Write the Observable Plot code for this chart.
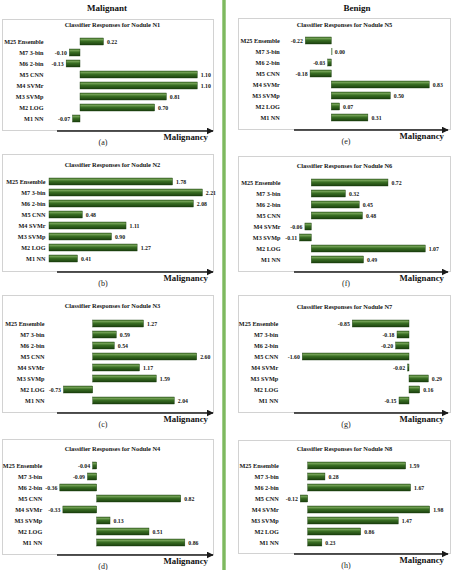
<!DOCTYPE html>
<html><head><meta charset="utf-8">
<script src="https://cdn.jsdelivr.net/npm/d3@7"></script>
<script src="https://cdn.jsdelivr.net/npm/@observablehq/plot@0.6"></script>
<style>
html,body{margin:0;padding:0;background:#fff;}
#page{position:relative;width:452px;height:570px;overflow:hidden;background:#fff;font-family:"Liberation Serif","Times New Roman",serif;color:#111;}
.box{position:absolute;border:1px solid #d2d2d2;box-sizing:border-box;background:#fff;}
.sep{position:absolute;left:222px;top:0;width:4px;height:570px;background:linear-gradient(to right,#b4d8a0,#6cae4a,#b4d8a0);}
</style></head><body>
<svg width="0" height="0" style="position:absolute">
  <defs>
    <linearGradient id="barGrad" x1="0" y1="0" x2="0" y2="1">
      <stop offset="0%" stop-color="#4d7d33"/>
      <stop offset="22%" stop-color="#6f9d52"/>
      <stop offset="45%" stop-color="#3a7024"/>
      <stop offset="100%" stop-color="#1b3f0e"/>
    </linearGradient>
    <marker id="arrowHead" viewBox="0 0 10 10" refX="9" refY="5" markerWidth="5" markerHeight="5" orient="auto">
      <path d="M0,0 L10,5 L0,10 z" fill="#1a1a1a"/>
    </marker>
  </defs>
</svg>
<div id="page"></div>
<script>
// ---------- data ----------
const classifiers = ["M25 Ensemble","M7 3-bin","M6 2-bin","M5 CNN","M4 SVMr","M3 SVMp","M2 LOG","M1 NN"];
const nodules = ["N1","N2","N3","N4","N5","N6","N7","N8"];
const panelLetters = ["(a)","(b)","(c)","(d)","(e)","(f)","(g)","(h)"];
const columnHeaders = ["Malignant","Benign"];
const axisLabel = "Malignancy";
const titlePrefix = "Classifier Responses for Nodule ";

const valuesN1 = [0.22, -0.10, -0.13, 1.10, 1.10, 0.81, 0.70, -0.07];
const valuesN2 = [1.78, 2.21, 2.08, 0.48, 1.11, 0.90, 1.27, 0.41];
const valuesN3 = [1.27, 0.59, 0.54, 2.60, 1.17, 1.59, -0.73, 2.04];
const valuesN4 = [-0.04, -0.09, -0.36, 0.82, -0.33, 0.13, 0.51, 0.86];
const valuesN5 = [-0.22, 0.00, -0.03, -0.18, 0.83, 0.50, 0.07, 0.31];
const valuesN6 = [0.72, 0.32, 0.45, 0.48, -0.06, -0.11, 1.07, 0.49];
const valuesN7 = [-0.85, -0.18, -0.20, -1.60, -0.02, 0.29, 0.16, -0.15];
const valuesN8 = [1.59, 0.28, 1.67, -0.12, 1.98, 1.47, 0.86, 0.23];
const allValues = [valuesN1, valuesN2, valuesN3, valuesN4, valuesN5, valuesN6, valuesN7, valuesN8];

// ---------- layout (pixels) ----------
const colLeft = [2, 238], colWidth = [212, 213];
const layout = [
  {col:0, top:19,  bottom:131, zero:80,    k:106.6, labelRight:43,    row1:40,    row8:120,   titleY:24.5},
  {col:0, top:154, bottom:272, zero:49,    k:69.4,  labelRight:45,    row1:180,   row8:260,   titleY:164},
  {col:0, top:295, bottom:413, zero:92.7,  k:40,    labelRight:44,    row1:322.3, row8:402.3, titleY:305},
  {col:0, top:439, bottom:555, zero:96.7,  k:102.5, labelRight:41.7,  row1:464,   row8:544,   titleY:448.3},
  {col:1, top:18,  bottom:130, zero:331.3, k:118,   labelRight:279.3, row1:39.7,  row8:119.3, titleY:24},
  {col:1, top:156, bottom:272, zero:311.3, k:106.5, labelRight:280,   row1:181.3, row8:261,   titleY:165},
  {col:1, top:295, bottom:413, zero:409,   k:66.7,  labelRight:277.7, row1:322.3, row8:402.3, titleY:306},
  {col:1, top:440, bottom:554, zero:307.7, k:61.6,  labelRight:278.3, row1:464,   row8:544,   titleY:448.3}
];
const titleCenter = [112, 344];
const pad = 0.36;

const page = document.getElementById("page");
const sep = document.createElement("div"); sep.className = "sep"; page.appendChild(sep);

allValues.forEach((values, i) => {
  const L = layout[i];
  const left = colLeft[L.col], width = colWidth[L.col];
  const height = L.bottom - L.top;
  const box = document.createElement("div");
  box.className = "box";
  Object.assign(box.style, {left: left + "px", top: L.top + "px", width: width + "px", height: height + "px"});
  page.appendChild(box);

  const data = classifiers.map((m, j) => ({m, v: values[j]}));
  const lo = Math.min(0, d3.min(values)), hi = Math.max(0, d3.max(values));
  const zx = L.zero - left;
  const step = (L.row8 - L.row1) / 7;
  const ya = L.row1 - L.top - step * (1 + pad) / 2;
  const yb = L.row8 - L.top + step * (1 + pad) / 2;
  const marginLeft = L.labelRight - left + 2;

  const svg = Plot.plot({
    width, height,
    marginLeft, marginRight: 0, marginTop: 0, marginBottom: 0,
    style: {fontFamily: "'Liberation Serif','Times New Roman',serif", fontSize: "6.2px", fontWeight: "bold", color: "#151515", background: "transparent", overflow: "visible"},
    x: {domain: [lo, hi], range: [zx + L.k * lo, zx + L.k * hi], axis: null},
    y: {domain: classifiers, range: [ya, yb], padding: pad, label: null},
    marks: [
      Plot.barX(data, {x: "v", y: "m", fill: "url(#barGrad)", stroke: "#183a0b", strokeWidth: 0.4}),
      Plot.tickX(data.filter(d => Math.abs(d.v) < 0.005), {x: "v", y: "m", stroke: "#2a5a18", strokeWidth: 0.8}),
      Plot.text(data.filter(d => d.v >= 0), {x: "v", y: "m", text: d => d.v.toFixed(2), textAnchor: "start", dx: 3, fontSize: 5.8, fill: "#151515"}),
      Plot.text(data.filter(d => d.v < 0), {x: "v", y: "m", text: d => d.v.toFixed(2), textAnchor: "end", dx: -3, fontSize: 5.8, fill: "#151515"}),
      Plot.axisY({tickSize: 0, tickPadding: 2, fill: "#151515", label: null}),
      Plot.text([titlePrefix + nodules[i]], {frameAnchor: "top-left", dx: titleCenter[L.col] - left - marginLeft, dy: L.titleY - L.top, textAnchor: "middle", lineAnchor: "middle", fontSize: 6.4, fill: "#151515"})
    ]
  });
  svg.style.position = "absolute";
  svg.style.left = left + "px";
  svg.style.top = L.top + "px";
  page.appendChild(svg);
});

// ---------- annotations: headers, arrows, letters ----------
const ov = d3.select(page).append("svg")
  .attr("width", 452).attr("height", 570)
  .style("position", "absolute").style("left", 0).style("top", 0)
  .style("font-family", "'Liberation Serif','Times New Roman',serif");

const headerX = [107, 357];
columnHeaders.forEach((h, c) => {
  ov.append("text").attr("x", headerX[c]).attr("y", 7.5).attr("dy", "0.35em")
    .attr("text-anchor", "middle").attr("font-size", 9).attr("font-weight", "bold").attr("fill", "#111").text(h);
});
const arrowStart = [57, 294], arrowEnd = [213, 448], labelRightX = [208, 444], letterX = [103, 346];
layout.forEach((L, i) => {
  const c = L.col, y = L.bottom;
  ov.append("line").attr("x1", arrowStart[c]).attr("x2", arrowEnd[c]).attr("y1", y).attr("y2", y)
    .attr("stroke", "#1a1a1a").attr("stroke-width", 1.4).attr("marker-end", "url(#arrowHead)");
  ov.append("text").attr("x", labelRightX[c]).attr("y", y + 9).attr("text-anchor", "end")
    .attr("font-size", 8.8).attr("font-weight", "bold").attr("fill", "#111").text(axisLabel);
  ov.append("text").attr("x", letterX[c]).attr("y", y + 11).attr("dy", "0.35em").attr("text-anchor", "middle")
    .attr("font-size", 8).attr("fill", "#222").text(panelLetters[i]);
});
</script>
</body></html>
